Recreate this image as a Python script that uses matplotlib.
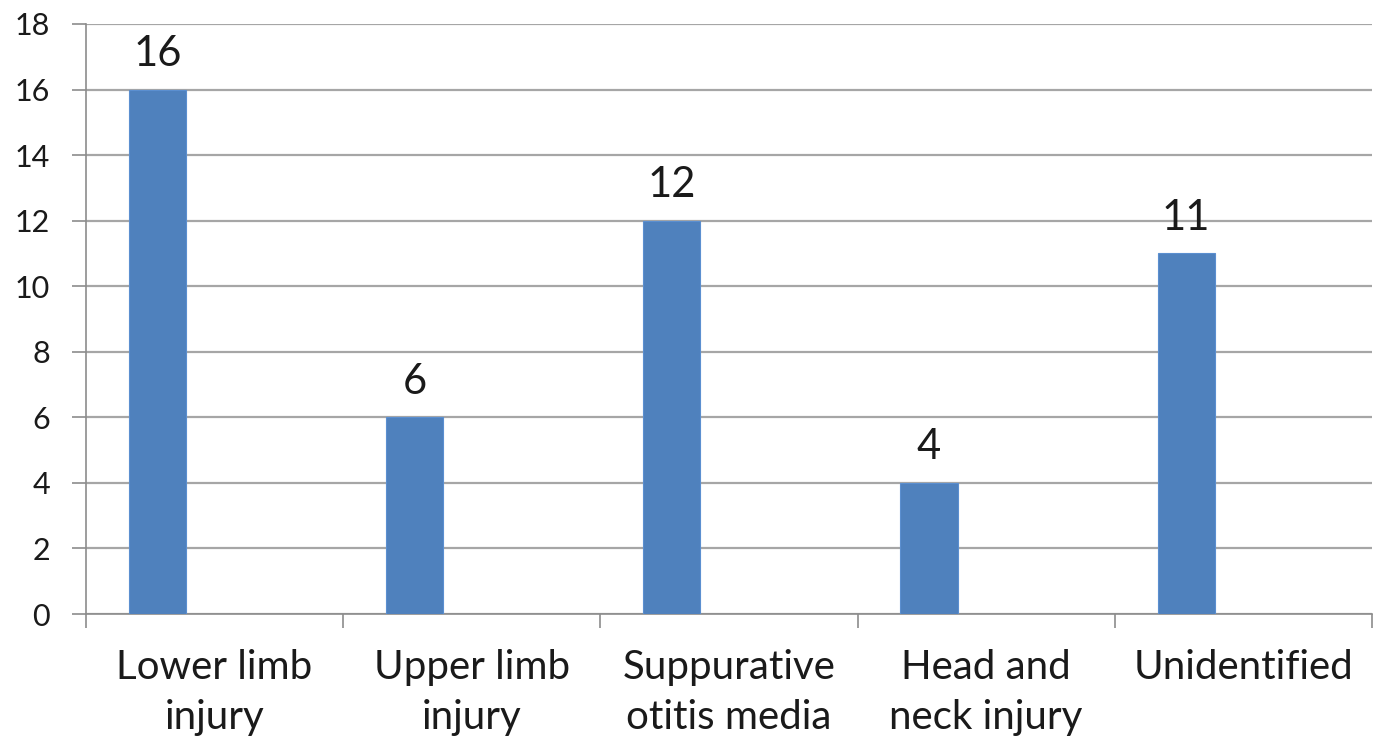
import numpy as np
import matplotlib.pyplot as plt

categories = ["Lower limb\ninjury", "Upper limb\ninjury", "Suppurative\notitis media",
              "Head and\nneck injury", "Unidentified"]
counts = [16, 6, 12, 4, 11]
y_ticks = [0, 2, 4, 6, 8, 10, 12, 14, 16, 18]

plt.rcParams['font.family'] = ['Lato', 'DejaVu Sans']

fig = plt.figure(figsize=(13.83, 7.45), dpi=100)
ax = fig.add_axes([0.0622, 0.1758, 0.992 - 0.0622, 0.9678 - 0.1758])

x = np.arange(len(categories))
# excel style: first of three series slots, gap width 150%
w = 1 / 4.5
bars = ax.bar(x - w, counts, width=w, color='#4F81BD', edgecolor='#5b8fd0',
              linewidth=0.8, zorder=3)

for xi, v in zip(x - w, counts):
    ax.annotate(str(v), (xi, v), xytext=(0, 12), textcoords='offset points',
                ha='center', va='bottom', fontsize=30, color='#1a1a1a')

ax.set_xlim(-0.5, len(categories) - 0.5)
ax.set_ylim(0, 18)
ax.set_yticks(y_ticks)
ax.tick_params(axis='y', labelsize=22, length=10, width=1.2, color='#8c8c8c',
               pad=16, labelcolor='#1a1a1a')

ax.set_xticks(x)
ax.set_xticklabels(categories, fontsize=29, color='#1a1a1a', linespacing=1.45)
ax.set_xticks(np.arange(-0.5, len(categories)), minor=True)
ax.tick_params(axis='x', which='major', length=0, pad=25)
ax.tick_params(axis='x', which='minor', length=10, width=1.2, color='#8c8c8c')

ax.yaxis.grid(True, color='#a6a6a6', linewidth=1.6, zorder=0)
ax.set_axisbelow(True)
for s in ['top', 'right']:
    ax.spines[s].set_visible(False)
for s in ['left', 'bottom']:
    ax.spines[s].set_color('#8c8c8c')
    ax.spines[s].set_linewidth(1.2)

plt.savefig("out.png", dpi=100)
